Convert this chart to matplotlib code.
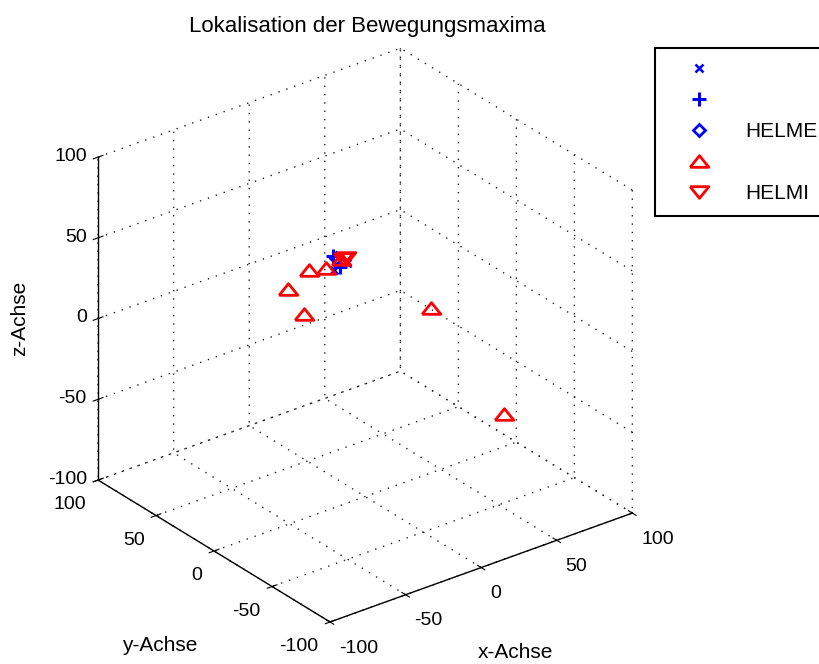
import matplotlib
matplotlib.use("Agg")
import matplotlib.pyplot as plt

plt.rcParams["font.family"] = ["Liberation Sans", "DejaVu Sans"]
plt.rcParams["axes.unicode_minus"] = False

# Localised motion maxima (x, y, z) per marker group
kreuz_x = [-7, 3]
kreuz_y = [18, 20]
kreuz_z = [35, 35]

plus_x = [2, -3]
plus_y = [30, 18]
plus_z = [35, 35]

helme_x = [2]
helme_y = [28]
helme_z = [35]

dreieck_x = [48, 35, -22, -23, -12, -9, 3]
dreieck_y = [-57, -11, 24, 37, 33, 22, 25]
dreieck_z = [-40, 10, 10, 20, 30, 35, 35]

helmi_x = [4, 6]
helmi_y = [24, 24]
helmi_z = [35, 35]

legend_labels = ["", "", "HELME", "", "HELMI"]
ticks = [-100, -50, 0, 50, 100]

# wide, flat triangles (closed outlines)
tri_up = [(-1, -0.62), (1, -0.62), (0, 0.62), (-1, -0.62)]
tri_down = [(-1, 0.62), (1, 0.62), (0, -0.62), (-1, 0.62)]

fig = plt.figure(figsize=(8.19, 6.64), dpi=100)
ax = fig.add_subplot(projection="3d", proj_type="ortho")
ax.set_position([0.0495, 0.006, 0.772, 0.953])
ax.view_init(elev=28, azim=-127.5)
ax.set_box_aspect((1, 1, 0.96))

h1, = ax.plot(kreuz_x, kreuz_y, kreuz_z, ls="none", marker="x", ms=6,
              mew=1.8, color="blue")
h2, = ax.plot(plus_x, plus_y, plus_z, ls="none", marker="+", ms=10,
              mew=2.2, color="blue")
h3, = ax.plot(helme_x, helme_y, helme_z, ls="none", marker="D", ms=6.5,
              mew=2, mfc="none", mec="blue")
h4, = ax.plot(dreieck_x, dreieck_y, dreieck_z, ls="none", marker=tri_up,
              ms=13.5, mew=2, mfc="none", mec="red")
h5, = ax.plot(helmi_x, helmi_y, helmi_z, ls="none", marker=tri_down,
              ms=13.5, mew=2, mfc="none", mec="red")

ax.set_xlim(-100, 100)
ax.set_ylim(-100, 100)
ax.set_zlim(-100, 100)
for axis in (ax.xaxis, ax.yaxis, ax.zaxis):
    axis.set_ticks(ticks)
    axis.pane.fill = False
    axis.pane.set_edgecolor("none")
    axis.line.set_color("black")
    axis.line.set_linewidth(1.0)
    axis._axinfo["grid"].update(color="#222222", linewidth=1.0,
                                linestyle=(0, (1, 5)))
    axis._axinfo["tick"]["inward_factor"] = 0.2
    axis._axinfo["tick"]["outward_factor"] = 0.2

ax.tick_params(labelsize=14, colors="black")
ax.xaxis.set_tick_params(pad=1)
ax.yaxis.set_tick_params(pad=1)
ax.zaxis.set_tick_params(pad=-3)

# tick label anchoring per axis
alignments = {ax.xaxis: ("left", "top"),
              ax.yaxis: ("right", "top"),
              ax.zaxis: ("right", "center")}
for axis, (ha, va) in alignments.items():
    for tick in axis.get_major_ticks():
        tick.label1.set_horizontalalignment(ha)
        tick.label1.set_verticalalignment(va)

fig.text(0.6288, 0.018, "x-Achse", fontsize=15, ha="center", va="center")
fig.text(0.1954, 0.0286, "y-Achse", fontsize=15, ha="center", va="center")
fig.text(0.0244, 0.521, "z-Achse", fontsize=15, ha="center", va="center",
         rotation=90)
fig.text(0.4487, 0.9518, "Lokalisation der Bewegungsmaxima", fontsize=16,
         ha="center", va="baseline")

leg = fig.legend([h1, h2, h3, h4, h5], legend_labels, loc="upper left",
                 bbox_to_anchor=(0.7998, 0.9277), bbox_transform=fig.transFigure,
                 borderaxespad=0, fontsize=15, numpoints=1, fancybox=False,
                 framealpha=1, edgecolor="black", borderpad=0.6,
                 handlelength=3.0, handletextpad=0.73, labelspacing=0.57)
leg.get_frame().set_linewidth(1.5)

fig.savefig("out.png", dpi=100)
